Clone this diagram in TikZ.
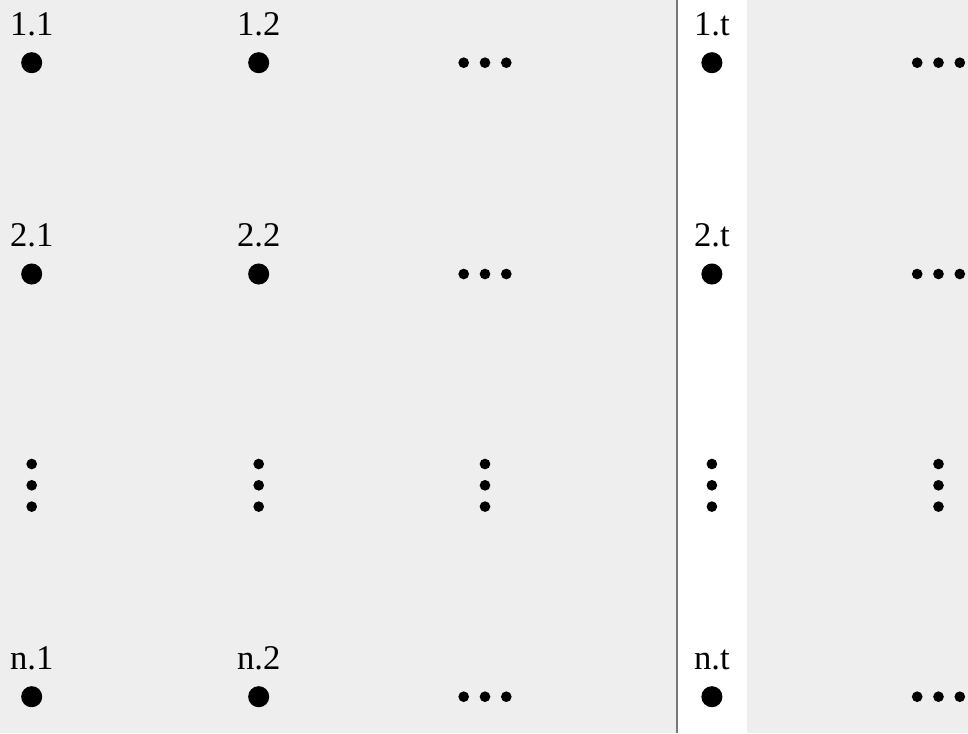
\documentclass[tikz,border=0pt]{standalone}
\usepackage{fontspec}
\setmainfont{Liberation Serif}
\definecolor{bggray}{HTML}{EEEEEE}
\definecolor{linegray}{HTML}{777777}
\begin{document}
\begin{tikzpicture}[x=0.75pt,y=-0.75pt,
  bigdot/.style={circle,fill=black,inner sep=0pt,minimum size=15.8pt},
  smalldot/.style={circle,fill=black,inner sep=0pt,minimum size=8pt},
  lab/.style={anchor=base,inner sep=0pt,font=\fontsize{26}{30}\selectfont}]
\fill[bggray] (0,0) rectangle (968,733);
\useasboundingbox (0,0) rectangle (968,733);
\fill[white] (677,0) rectangle (746.5,733);
\draw[linegray,line width=0.8pt] (677,0) -- (677,733);
% big dots
\foreach \c/\x in {1/31.7,2/258.7,t/711.9}{
  \foreach \r/\y in {1/62.7,2/274,n/696.7}{
    \node[bigdot] (d\r\c) at (\x,\y) {};
    \node[lab] (l\r\c) at (\x,\y-27.7) {\r.\c};
  }
}
% horizontal ellipses
\foreach \x in {485,938.5}{
  \foreach \y in {62.7,274,696.7}{
    \foreach \k in {-1,0,1}{
      \node[smalldot] (h\x\y\k) at (\x+21.3*\k,\y) {};
    }
  }
}
% vertical ellipses
\foreach \x in {31.7,258.7,485,711.9,938.5}{
  \foreach \k in {-1,0,1}{
    \node[smalldot] (v\x\k) at (\x,485.3+21.3*\k) {};
  }
}
\end{tikzpicture}
\end{document}
